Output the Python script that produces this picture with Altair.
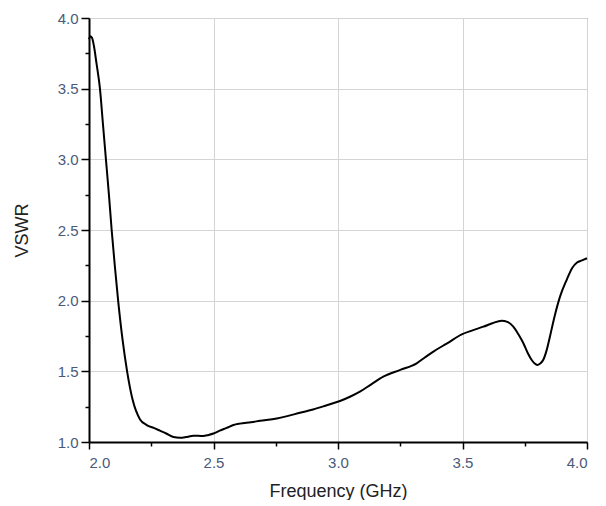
import altair as alt
import pandas as pd

freq = [2.00, 2.005, 2.012, 2.02, 2.03, 2.044, 2.056, 2.068, 2.08, 2.091, 2.104, 2.117,
        2.135, 2.153, 2.175, 2.205, 2.232, 2.26, 2.285, 2.31, 2.339, 2.365, 2.39, 2.419,
        2.458, 2.48, 2.50, 2.525, 2.553, 2.58, 2.606, 2.65, 2.687, 2.754, 2.80, 2.847,
        2.90, 2.955, 3.008, 3.048, 3.088, 3.135, 3.182, 3.25, 3.316, 3.35, 3.383, 3.44,
        3.497, 3.54, 3.584, 3.62, 3.657, 3.68, 3.704, 3.725, 3.744, 3.762, 3.778, 3.79,
        3.80, 3.812, 3.824, 3.838, 3.851, 3.87, 3.892, 3.918, 3.94, 3.96, 3.98, 4.00]
vswr = [3.85, 3.87, 3.86, 3.80, 3.68, 3.50, 3.25, 3.00, 2.75, 2.50, 2.24, 2.00,
        1.72, 1.50, 1.30, 1.16, 1.12, 1.10, 1.08, 1.06, 1.035, 1.03, 1.035, 1.045,
        1.042, 1.05, 1.06, 1.08, 1.10, 1.12, 1.13, 1.14, 1.15, 1.167, 1.185, 1.207,
        1.23, 1.26, 1.29, 1.32, 1.356, 1.41, 1.462, 1.51, 1.557, 1.60, 1.64, 1.70,
        1.762, 1.79, 1.816, 1.84, 1.858, 1.85, 1.816, 1.76, 1.70, 1.63, 1.58, 1.555,
        1.545, 1.555, 1.58, 1.65, 1.745, 1.89, 2.03, 2.146, 2.23, 2.27, 2.285, 2.30]

x_ticks = [2.0, 2.25, 2.5, 2.75, 3.0, 3.25, 3.5, 3.75, 4.0]
y_ticks = [1.0, 1.25, 1.5, 1.75, 2.0, 2.25, 2.5, 2.75, 3.0, 3.25, 3.5, 3.75, 4.0]

df = pd.DataFrame({"freq": freq, "vswr": vswr})

minor_test = "(datum.value * 4) % 2 != 0"
label_expr = "(datum.value * 4) % 2 == 0 ? format(datum.value, '.1f') : ''"

common = dict(
    domainColor="black", domainWidth=2,
    tickColor="black", tickWidth=1.5,
    gridColor="#d4d4d4", gridWidth=1,
    labelFont="Liberation Sans", labelFontSize=15, labelColor="#4a5a7a",
    titleFont="Liberation Sans", titleFontSize=18, titleColor="#222222",
    titleFontWeight="normal",
)

x_axis = alt.Axis(
    values=x_ticks, labelExpr=label_expr, title="Frequency (GHz)",
    gridOpacity={"condition": {"test": minor_test, "value": 0}, "value": 1},
    tickSize={"condition": {"test": minor_test, "value": 4}, "value": 7},
    labelPadding=6, titlePadding=12, **common,
)
y_axis = alt.Axis(
    values=y_ticks, labelExpr=label_expr, title="VSWR",
    gridOpacity={"condition": {"test": minor_test, "value": 0}, "value": 1},
    tickSize={"condition": {"test": minor_test, "value": 4}, "value": 8},
    labelPadding=3, titlePadding=26, **common,
)

chart = alt.Chart(df).mark_line(color="black", strokeWidth=2, interpolate="monotone").encode(
    x=alt.X("freq:Q", scale=alt.Scale(domain=[2.0, 4.0], nice=False, zero=False), axis=x_axis),
    y=alt.Y("vswr:Q", scale=alt.Scale(domain=[1.0, 4.0], nice=False, zero=False), axis=y_axis),
).properties(
    width=498, height=424,
    autosize=alt.AutoSizeParams(type="none"),
    padding={"left": 81, "top": 10, "right": 10, "bottom": 58},
).configure_view(stroke="#333333", strokeWidth=1)

chart.save("out.html", embed_options={"renderer": "svg", "actions": False})
